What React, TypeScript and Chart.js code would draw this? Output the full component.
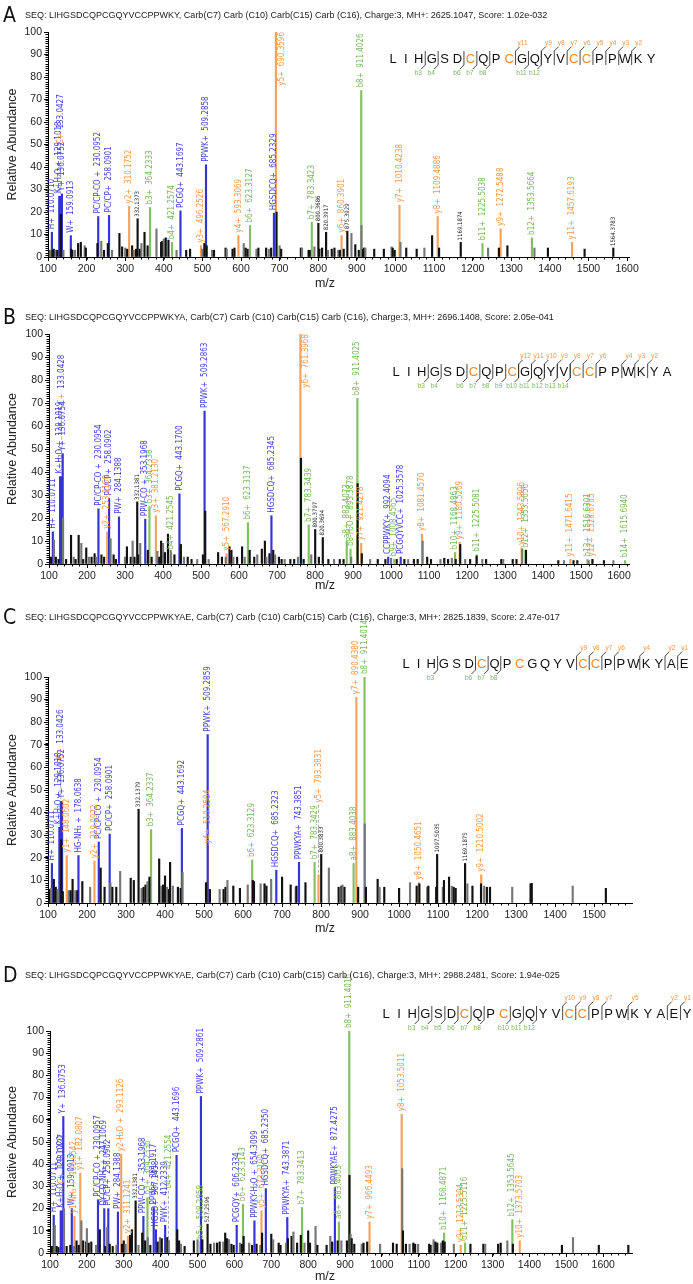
import React, { useEffect, useRef } from 'react';
import { Chart, registerables } from 'chart.js';
Chart.register(...registerables);

type Pk = [number, number];
type Named = [string, number, number];

// ---------------- Panel A ----------------
const A_HEADER = 'SEQ: LIHGSDCQPCGQYVCCPPWKY, Carb(C7) Carb (C10) Carb(C15) Carb (C16), Charge:3, MH+: 2625.1047, Score: 1.02e-032';
const A_SEQ = 'LIHGSDCQPCGQYVCCPPWKY';
const A_B_IONS = [3, 4, 6, 7, 8, 11, 12];
const A_Y_IONS = [11, 9, 8, 7, 6, 5, 4, 3, 2];
const A_BLUE: Named[] = [
  ['H+', 110.0710, 11], ['K+H₂O +', 129.1018, 27], ['C+', 133.0427, 27], ['Y+', 136.0752, 28],
  ['W+', 159.0913, 9.5], ['PC/CP-CO +', 230.0952, 18], ['PC/CP+', 258.0901, 18.5],
  ['PCGQ+', 443.1697, 20.5], ['PPWK+', 509.2858, 41], ['HGSDCQ+', 685.2329, 19.5],
];
const A_ORANGE: Named[] = [
  ['y2+', 310.1752, 22.5], ['y3+', 496.2526, 5], ['y4+', 593.3069, 9.5], ['y5+', 690.3596, 100],
  ['y6+', 860.3901, 9.5], ['y7+', 1010.4238, 23], ['y8+', 1109.4886, 18], ['y9+', 1272.5488, 12.5],
  ['y11+', 1457.6193, 6.5],
];
const A_GREEN: Named[] = [
  ['b3+', 364.2333, 22], ['b4+', 421.2574, 6.5], ['b6+', 623.3127, 14], ['b7+', 783.3423, 15.5],
  ['b8+', 911.4026, 74], ['b11+', 1225.5038, 6], ['b12+', 1353.5664, 8.5],
];
const A_MARKED: Pk[] = [[332.1373, 17], [800.3686, 15], [820.3917, 11], [875.3929, 11.5], [1169.1874, 6.5], [1564.3783, 4]];
const A_OTHER: Pk[] = [
  [103, 3], [106, 3], [112, 3], [115, 3.5], [120, 3], [124, 3], [133, 19], [140, 3], [160, 3.5], [163, 3], [170, 3],
  [178, 6], [185, 6.5], [195, 5], [198, 4], [228, 6], [238, 7], [245, 3], [255, 6], [266, 3], [285, 10.5], [292, 4.5],
  [300, 4], [305, 3.5], [318, 5], [322, 3], [328, 3.5], [338, 3.5], [342, 6], [350, 11], [358, 5], [381, 12.5],
  [393, 6.5], [396, 7], [400, 8], [405, 8.5], [412, 7.5], [433, 3], [458, 3], [468, 3.5], [500, 3.5], [505, 6],
  [511, 5], [525, 3], [530, 3], [560, 4], [563, 3.5], [578, 3.5], [583, 4], [607, 6], [612, 4], [617, 3.5],
  [640, 3.5], [645, 4], [665, 4], [672, 3.5], [678, 4], [692, 20], [700, 5], [704, 3.5], [755, 4], [758, 4],
  [775, 3], [778, 3], [790, 4.5], [803, 3.5], [810, 4], [825, 3], [835, 3.5], [842, 4], [852, 3], [856, 3],
  [866, 3.5], [886, 10.5], [896, 5.5], [905, 3], [912, 14], [916, 3.5], [919, 4], [922, 4], [945, 3.5], [970, 3.5],
  [990, 4.5], [993, 4], [998, 3], [1013, 6.5], [1028, 4], [1055, 3.5], [1075, 4], [1095, 9.5], [1113, 4],
  [1240, 4], [1268, 4], [1290, 5], [1360, 4], [1395, 4], [1490, 3.5],
];

// ---------------- Panel B ----------------
const B_HEADER = 'SEQ: LIHGSDCQPCGQYVCCPPWKYA, Carb(C7) Carb (C10) Carb(C15) Carb (C16), Charge:3, MH+: 2696.1408, Score: 2.05e-041';
const B_SEQ = 'LIHGSDCQPCGQYVCCPPWKYA';
const B_B_IONS = [3, 4, 6, 7, 8, 9, 10, 11, 12, 13, 14];
const B_Y_IONS = [12, 11, 10, 9, 8, 7, 6, 4, 3, 2];
const B_BLUE: Named[] = [
  ['H+', 110.0711, 14], ['K+H₂O +', 129.1019, 38], ['C+', 133.0428, 38], ['Y+', 136.0754, 48],
  ['PC/CP-CO +', 230.0954, 24], ['PC/CP+', 258.0902, 28.5], ['PW+', 284.1388, 20.5],
  ['PPW-CO +', 353.1968, 19.5], ['PCGQ+', 443.1700, 30.5], ['PPWK+', 509.2863, 66.5],
  ['HGSDCQ+', 685.2345, 21], ['CCPPWKY+', 992.4094, 3], ['PCGQYVCC+', 1025.3578, 3],
];
const B_ORANGE: Named[] = [
  ['y2+', 253.1160, 14], ['y3+', 381.2130, 21], ['y5+', 567.2910, 4.5], ['y6+', 761.3968, 100],
  ['y7+', 921.4278, 9], ['y8+', 1081.4570, 13], ['y9+', 1180.5269, 9.5], ['y10+', 1343.5896, 7],
  ['y11+', 1471.6415, 2], ['y12+', 1528.6705, 2],
];
const B_GREEN: Named[] = [
  ['b3+', 364.2338, 25], ['b4+', 421.2545, 5], ['b6+', 623.3137, 18], ['b7+', 783.3439, 17],
  ['a8+', 883.4073, 10], ['b8-H₂O+', 893.3878, 6.5], ['b8+', 911.4025, 72], ['b9+', 1008.4565, 2],
  ['b10+', 1168.4863, 5], ['b11+', 1225.5081, 4], ['b12+', 1353.5656, 6], ['b13+', 1516.6301, 2],
  ['b14+', 1615.6940, 1.5],
];
const B_MARKED: Pk[] = [[332.1381, 27], [800.3797, 15], [820.3694, 11.5]];
const B_OTHER: Pk[] = [
  [105, 3], [113, 10.5], [118, 3], [125, 2], [137, 20], [145, 2], [158, 12.5], [165, 3], [170, 2], [178, 12.5],
  [185, 9], [190, 2], [198, 7], [205, 3], [212, 3], [220, 4.5], [225, 3], [238, 4], [245, 3], [262, 11], [270, 4],
  [276, 2], [300, 3], [305, 7.5], [315, 3], [320, 10], [325, 3], [335, 4], [340, 9], [360, 6], [370, 3], [385, 5.5],
  [390, 3], [395, 10], [400, 9], [405, 5], [413, 13], [420, 6], [430, 4], [447, 8.5], [455, 3], [465, 3], [475, 2],
  [490, 2], [505, 4], [511, 23], [520, 2], [545, 5], [555, 3], [565, 3], [575, 7.5], [580, 6], [585, 3], [595, 3],
  [608, 7.5], [615, 3], [628, 6], [640, 3], [648, 4], [660, 6.5], [668, 10], [672, 3], [680, 4.5], [690, 6],
  [695, 4], [705, 3], [712, 2], [720, 2], [735, 2], [745, 2], [755, 3], [763, 46], [770, 2], [790, 4], [810, 3],
  [835, 2], [850, 2], [865, 2], [875, 2], [895, 3], [912, 35], [923, 4.5], [945, 2], [965, 2], [985, 2],
  [1000, 2.5], [1015, 2], [1035, 2], [1045, 2], [1060, 2], [1070, 2], [1083, 10], [1095, 3], [1105, 2],
  [1130, 2], [1140, 2.5], [1150, 2], [1160, 2.5], [1170, 2], [1182, 8.5], [1195, 2], [1208, 2], [1225, 3.5],
  [1240, 2], [1250, 2], [1290, 2], [1295, 2], [1320, 2], [1330, 2], [1345, 6.5], [1355, 6], [1440, 1.5],
  [1455, 1.5], [1480, 1.5], [1490, 1.5], [1520, 1.5], [1530, 2], [1560, 1.5], [1585, 1.5],
];

// ---------------- Panel C ----------------
const C_HEADER = 'SEQ: LIHGSDCQPCGQYVCCPPWKYAE, Carb(C7) Carb (C10) Carb(C15) Carb (C16), Charge:3, MH+: 2825.1839, Score: 2.47e-017';
const C_SEQ = 'LIHGSDCQPCGQYVCCPPWKYAE';
const C_B_IONS = [3, 6, 7, 8];
const C_Y_IONS = [9, 8, 7, 6, 4, 2, 1];
const C_BLUE: Named[] = [
  ['H+', 110.0711, 17.5], ['K+H₂O +', 129.1018, 33.5], ['C+', 133.0426, 45], ['Y+', 136.0752, 45],
  ['HG-NH₃ +', 178.0638, 21], ['PC/CP-CO +', 230.0954, 27], ['PC/CP+', 258.0901, 30.5],
  ['PCGQ+', 443.1692, 33], ['PPWK+', 509.2859, 74.5], ['HGSDCQ+', 685.2323, 14.5], ['PPWKYA+', 743.3851, 18],
];
const C_ORANGE: Named[] = [
  ['y1+', 148.0602, 21], ['y2+', 219.0972, 18.5], ['y4+', 510.2584, 25], ['y5+', 793.3831, 12.5],
  ['y7+', 890.4380, 91], ['y8+', 1050.4651, 9], ['y9+', 1210.5002, 12.5],
];
const C_GREEN: Named[] = [
  ['b3+', 364.2337, 32.5], ['b6+', 623.3129, 19], ['b7+', 783.3429, 18], ['a8+', 883.4038, 17.5],
  ['b8+', 911.4014, 100],
];
const C_MARKED: Pk[] = [[332.1379, 41.5], [800.3833, 21.5], [1097.5035, 21.5], [1169.1875, 17.5]];
const C_OTHER: Pk[] = [
  [105, 6], [108, 6.5], [115, 10.5], [120, 7], [125, 6], [134, 28], [138, 5], [153, 5.5], [158, 5.5], [163, 10.5],
  [170, 5.5], [175, 5.5], [188, 9.5], [208, 7], [235, 15.5], [245, 7], [260, 9], [265, 7], [275, 7], [285, 14],
  [312, 11], [320, 10], [340, 6.5], [345, 7], [350, 8], [355, 9.5], [360, 11.5], [385, 19.5], [390, 7.5], [395, 8],
  [400, 12], [405, 7], [410, 6], [413, 18], [420, 7.5], [433, 7], [440, 6.5], [445, 13.5], [505, 9], [515, 6],
  [540, 6], [550, 6], [555, 7], [560, 10], [575, 7.5], [592, 6.5], [612, 8], [625, 10], [628, 9.5], [645, 8.5],
  [655, 8.5], [660, 7.5], [672, 10.5], [700, 11.5], [722, 8], [735, 7], [737, 7.5], [760, 9], [820, 15.5],
  [845, 7], [852, 7.5], [855, 8], [860, 7], [895, 7], [912, 35], [915, 7], [945, 10.5], [950, 7], [962, 7],
  [1000, 6.5], [1028, 9], [1045, 7.5], [1052, 8.5], [1072, 7], [1075, 7.5], [1095, 7], [1112, 7], [1115, 10],
  [1128, 11.5], [1135, 7.5], [1140, 7], [1145, 6.5], [1175, 8.5], [1188, 7.5], [1210, 8.5], [1218, 7.5],
  [1225, 7], [1233, 7], [1290, 7], [1337, 8.5], [1340, 8.7], [1445, 7.5], [1530, 6.5],
];

// ---------------- Panel D ----------------
const D_HEADER = 'SEQ: LIHGSDCQPCGQYVCCPPWKYAE, Carb(C7) Carb (C10) Carb(C15) Carb (C16), Charge:3, MH+: 2988.2481, Score: 1.94e-025';
const D_SEQ = 'LIHGSDCQPCGQYVCCPPWKYAEY';
const D_B_IONS = [3, 4, 5, 6, 7, 8, 10, 11, 12];
const D_Y_IONS = [10, 9, 8, 7, 5, 2, 1];
const D_BLUE: Named[] = [
  ['H+', 110.0711, 17], ['K+H₂O +', 129.1020, 19], ['C+', 133.0427, 19], ['Y+', 136.0753, 61.5],
  ['W+', 159.0913, 20], ['PC/CP-CO +', 230.0957, 24], ['DY-CO-NH₃ +', 247.1069, 20], ['PC/CP+', 258.0902, 20],
  ['PW+', 284.1388, 18.5], ['PPW-CO +', 353.1968, 16.5], ['PPW+', 381.1917, 20.5], ['HGSD+', 387.1458, 10.5],
  ['PWK+', 412.2339, 12.5], ['PCGQ+', 443.1696, 44], ['PPWK+', 509.2861, 70.5], ['PCGQY+', 606.2334, 12.5],
  ['PPWKY-H₂O +', 654.3099, 14.5], ['HGSDCQ+', 685.2350, 29], ['PPWKYA+', 743.3871, 16],
  ['PPWKYAE+', 872.4275, 29.5],
];
const D_ORANGE: Named[] = [
  ['y1-NH₃ +', 166.0542, 16.5], ['y1+', 182.0807, 36], ['y2-H₂O +', 293.1126, 44.5], ['y2+', 311.1241, 7.5],
  ['y5+', 673.3190, 19], ['y7+', 966.4493, 14], ['y8+', 1053.5011, 62.5], ['y9+', 1213.5394, 3.5],
  ['y10+', 1373.5703, 5.5],
];
const D_GREEN: Named[] = [
  ['b3+', 364.2336, 25], ['b4+', 421.2554, 5.5], ['b5+', 508.2858, 5], ['b6+', 623.3143, 22],
  ['b7+', 783.3413, 20.5], ['a8+', 883.4063, 14], ['b8+', 911.4016, 100], ['b10+', 1168.4871, 9],
  ['b11+', 1225.5116, 4.5], ['b12+', 1353.5645, 15],
];
const D_MARKED: Pk[] = [[332.1381, 23.5], [527.2596, 13]];
const D_OTHER: Pk[] = [
  [105, 3], [113, 12.5], [118, 3], [123, 2.5], [138, 20], [145, 3], [155, 3.5], [165, 3], [172, 5.5], [178, 3.5],
  [185, 14.5], [190, 5.5], [198, 5], [200, 11], [205, 4.5], [212, 5], [225, 3.5], [235, 10.5], [250, 3], [255, 11.5],
  [262, 4], [270, 3], [280, 3.5], [295, 4], [300, 5.5], [305, 4], [317, 8], [322, 10.5], [340, 3.5], [350, 9],
  [358, 5.5], [365, 7], [372, 3.5], [392, 5], [398, 7], [403, 6.5], [418, 7], [422, 5.5], [445, 10.5], [450, 5.5],
  [455, 4], [465, 3], [490, 5.5], [500, 6], [513, 6], [535, 4], [545, 4.5], [553, 4.5], [560, 5], [570, 5], [575, 9],
  [580, 6.5], [585, 6], [592, 4], [598, 3.5], [615, 4.5], [620, 4], [625, 7.5], [640, 4.5], [648, 3.5], [660, 4],
  [670, 3.5], [675, 9], [700, 8.5], [705, 6], [720, 4.5], [725, 3.5], [740, 4.5], [745, 6.5], [755, 7.5], [760, 9.5],
  [770, 4.5], [780, 8], [790, 4.5], [800, 10], [805, 4.5], [820, 12], [825, 3.5], [850, 3.5], [860, 7.5], [865, 5],
  [880, 5.5], [890, 5.5], [905, 5.5], [912, 35], [915, 8.5], [918, 6.5], [925, 4], [945, 4], [950, 4.5], [960, 5],
  [995, 4], [1030, 4.5], [1040, 4], [1055, 38], [1057, 10], [1065, 4], [1075, 4], [1085, 4.5], [1090, 4], [1098, 4],
  [1128, 4], [1132, 3.5], [1140, 6], [1145, 5], [1150, 4.5], [1160, 4.5], [1165, 5.5], [1170, 5], [1195, 4],
  [1240, 4], [1275, 4], [1280, 4], [1315, 4], [1322, 4.5], [1340, 5.5], [1355, 4], [1488, 3.5], [1518, 7],
  [1588, 3.5], [1668, 3.5],
];

// ---------------- Axes ----------------
const Y_TICKS = [0, 10, 20, 30, 40, 50, 60, 70, 80, 90, 100];
const X_TICKS_16 = [100, 200, 300, 400, 500, 600, 700, 800, 900, 1000, 1100, 1200, 1300, 1400, 1500, 1600];
const X_TICKS_15 = [100, 200, 300, 400, 500, 600, 700, 800, 900, 1000, 1100, 1200, 1300, 1400, 1500];
const CARB_SITES = [7, 10, 15, 16];

// ---------------- Style ----------------
const FONT = '"Liberation Sans", Arial, sans-serif';
const NARROW = '"Liberation Sans Narrow", "Arial Narrow", "DejaVu Sans Condensed", sans-serif';
const COL_BLUE = '#3434d2';
const COL_ORANGE = '#f4a35c';
const COL_GREEN = '#84bf66';
const TXT_BLUE = '#4343dc';
const TXT_ORANGE = '#f2994a';
const TXT_GREEN = '#78b95a';
const RES_ORANGE = '#f28a2e';
const COL_BLACK = '#111111';
const COL_GRAY = '#777777';

interface PanelCfg {
  key: string; header: string; seq: string; bIons: number[]; yIons: number[];
  blue: Named[]; orange: Named[]; green: Named[]; marked: Pk[]; other: Pk[];
  xTicks: number[]; xMax: number;
  top: number; height: number; chartTop: number; chartBottom: number; left: number; right: number;
  headerY: number; pepX0: number; pepX1: number; pepY: number; mzY: number;
  leaders: Record<string, number>;
}

const PANELS: PanelCfg[] = [
  {
    key: 'A', header: A_HEADER, seq: A_SEQ, bIons: A_B_IONS, yIons: A_Y_IONS,
    blue: A_BLUE, orange: A_ORANGE, green: A_GREEN, marked: A_MARKED, other: A_OTHER,
    xTicks: X_TICKS_16, xMax: 1605,
    top: 0, height: 300, chartTop: 32, chartBottom: 257, left: 48, right: 629,
    headerY: 16, pepX0: 393, pepX1: 651, pepY: 58, mzY: 284, leaders: { 'C+': 50 },
  },
  {
    key: 'B', header: B_HEADER, seq: B_SEQ, bIons: B_B_IONS, yIons: B_Y_IONS,
    blue: B_BLUE, orange: B_ORANGE, green: B_GREEN, marked: B_MARKED, other: B_OTHER,
    xTicks: X_TICKS_16, xMax: 1626,
    top: 300, height: 305, chartTop: 34, chartBottom: 264, left: 49, right: 629,
    headerY: 18, pepX0: 396, pepX1: 667, pepY: 71, mzY: 286, leaders: { 'C+': 70 },
  },
  {
    key: 'C', header: C_HEADER, seq: C_SEQ, bIons: C_B_IONS, yIons: C_Y_IONS,
    blue: C_BLUE, orange: C_ORANGE, green: C_GREEN, marked: C_MARKED, other: C_OTHER,
    xTicks: X_TICKS_15, xMax: 1597,
    top: 605, height: 345, chartTop: 72, chartBottom: 298, left: 48, right: 632,
    headerY: 13, pepX0: 406, pepX1: 684, pepY: 58, mzY: 324, leaders: { 'C+': 40, 'y5+': 70 },
  },
  {
    key: 'D', header: D_HEADER, seq: D_SEQ, bIons: D_B_IONS, yIons: D_Y_IONS,
    blue: D_BLUE, orange: D_ORANGE, green: D_GREEN, marked: D_MARKED, other: D_OTHER,
    xTicks: X_TICKS_16, xMax: 1678,
    top: 950, height: 334, chartTop: 81, chartBottom: 303, left: 50, right: 632,
    headerY: 26, pepX0: 386, pepX1: 687, pepY: 63, mzY: 327, leaders: { 'C+': 25, 'b4+': 50 },
  },
];

function drawVText(ctx: CanvasRenderingContext2D, x: number, yBottom: number, parts: { t: string; c: string }[], font: string) {
  ctx.save();
  ctx.translate(x, yBottom);
  ctx.rotate(-Math.PI / 2);
  ctx.font = font;
  ctx.textAlign = 'left';
  ctx.textBaseline = 'middle';
  let cx = 0;
  for (const p of parts) {
    ctx.fillStyle = p.c;
    ctx.fillText(p.t, cx, 0);
    cx += ctx.measureText(p.t).width;
  }
  ctx.restore();
}

function measureParts(ctx: CanvasRenderingContext2D, parts: { t: string }[], font: string) {
  ctx.save();
  ctx.font = font;
  let w = 0;
  for (const p of parts) w += ctx.measureText(p.t).width;
  ctx.restore();
  return w;
}

function line(ctx: CanvasRenderingContext2D, x1: number, y1: number, x2: number, y2: number) {
  ctx.beginPath();
  ctx.moveTo(x1, y1);
  ctx.lineTo(x2, y2);
  ctx.stroke();
}

function drawPeptide(ctx: CanvasRenderingContext2D, p: PanelCfg) {
  const n = p.seq.length;
  const step = (p.pepX1 - p.pepX0) / (n - 1);
  const Y = p.pepY;
  const h = 7;
  ctx.save();
  ctx.font = `13px ${FONT}`;
  ctx.textAlign = 'center';
  ctx.textBaseline = 'middle';
  for (let i = 0; i < n; i++) {
    ctx.fillStyle = CARB_SITES.includes(i + 1) ? RES_ORANGE : COL_BLACK;
    ctx.fillText(p.seq[i], p.pepX0 + i * step, Y + 1);
  }
  ctx.strokeStyle = '#333';
  ctx.lineWidth = 0.9;
  const bnd = (k: number) => p.pepX0 + (k - 0.5) * step;
  ctx.font = `6.5px ${FONT}`;
  for (const b of p.bIons) {
    const bx = bnd(b);
    line(ctx, bx, Y - h, bx, Y + h);
    line(ctx, bx, Y + h, bx - 4, Y + h + 4);
    ctx.fillStyle = TXT_GREEN;
    ctx.fillText('b' + b, bx - 7, Y + h + 8);
  }
  for (const yv of p.yIons) {
    const bx = bnd(n - yv);
    line(ctx, bx, Y - h, bx, Y + h);
    line(ctx, bx, Y - h, bx + 4, Y - h - 4);
    ctx.fillStyle = TXT_ORANGE;
    ctx.fillText('y' + yv, bx + 7, Y - h - 8);
  }
  ctx.restore();
}

function overlay(p: PanelCfg) {
  return {
    id: 'overlay' + p.key,
    afterDraw(chart: any) {
      const { ctx, chartArea } = chart;
      const xs = chart.scales.x;
      const ys = chart.scales.y;
      ctx.save();
      ctx.strokeStyle = '#000';
      ctx.lineWidth = 1;
      ctx.beginPath();
      for (let v = 100; v <= p.xMax; v += 20) {
        const px = Math.round(xs.getPixelForValue(v)) + 0.5;
        ctx.moveTo(px, chartArea.bottom);
        ctx.lineTo(px, chartArea.bottom + 2.5);
      }
      for (let v = 0; v <= 100; v += 1) {
        const py = Math.round(ys.getPixelForValue(v)) + 0.5;
        ctx.moveTo(chartArea.left, py);
        ctx.lineTo(chartArea.left - 2.5, py);
      }
      ctx.stroke();

      const labelFont = `8px ${NARROW}`;
      const groups: [Named[], string][] = [[p.blue, TXT_BLUE], [p.orange, TXT_ORANGE], [p.green, TXT_GREEN]];
      for (const [arr, col] of groups) {
        for (const [name, mz, inten] of arr) {
          const px = xs.getPixelForValue(mz);
          const top = ys.getPixelForValue(inten);
          const parts = [
            { t: name + '  ', c: name === 'C+' ? TXT_ORANGE : col },
            { t: mz.toFixed(4), c: col },
          ];
          const len = measureParts(ctx, parts, labelFont);
          const lead = p.leaders[name] || 0;
          let bottom = top - 3;
          if (lead) {
            ctx.save();
            ctx.strokeStyle = '#999';
            ctx.lineWidth = 0.8;
            ctx.setLineDash([3, 2]);
            line(ctx, px, top - 2, px, top - lead);
            ctx.restore();
            bottom = top - lead - 2;
          }
          if (bottom - len < 1) {
            drawVText(ctx, px + 6, top + len, parts, labelFont);
          } else {
            drawVText(ctx, px, bottom, parts, labelFont);
          }
        }
      }
      const smallFont = `6px ${NARROW}`;
      for (const [mz, inten] of p.marked) {
        const px = xs.getPixelForValue(mz);
        const top = ys.getPixelForValue(inten);
        drawVText(ctx, px, top - 2, [{ t: mz.toFixed(4), c: '#222' }], smallFont);
      }

      ctx.fillStyle = '#111';
      ctx.textBaseline = 'middle';
      ctx.textAlign = 'left';
      ctx.font = `21px ${NARROW}`;
      ctx.fillText(p.key, 3, p.headerY + 1);
      ctx.font = `9px ${FONT}`;
      ctx.fillStyle = '#222';
      ctx.fillText(p.header, 25, p.headerY);

      ctx.font = `12.5px ${FONT}`;
      ctx.fillStyle = '#222';
      ctx.textAlign = 'center';
      ctx.fillText('m/z', 325, p.mzY);
      ctx.save();
      ctx.translate(13, (chartArea.top + chartArea.bottom) / 2);
      ctx.rotate(-Math.PI / 2);
      ctx.fillText('Relative Abundance', 0, 0);
      ctx.restore();

      drawPeptide(ctx, p);
      ctx.restore();
    },
  };
}

function buildChart(canvas: HTMLCanvasElement, p: PanelCfg) {
  const pts = (arr: Pk[]) => arr.map(([x, y]) => ({ x, y }));
  const npts = (arr: Named[]) => arr.map(([, x, y]) => ({ x, y }));
  const ds = (data: any[], color: any, order: number) => ({
    data, backgroundColor: color, borderWidth: 0, barThickness: 1.5, grouped: false, order,
  });
  return new Chart(canvas, {
    type: 'bar',
    data: {
      datasets: [
        ds(pts(p.other), p.other.map((_, i) => (i % 3 === 1 ? COL_GRAY : COL_BLACK)), 0),
        ds(pts(p.marked), COL_BLACK, 1),
        ds(npts(p.blue), COL_BLUE, 2),
        ds(npts(p.orange), COL_ORANGE, 3),
        ds(npts(p.green), COL_GREEN, 4),
      ] as any,
    },
    options: {
      responsive: false,
      animation: false,
      devicePixelRatio: 1,
      layout: { padding: { top: p.chartTop, right: 693 - p.right, bottom: 0, left: 0 } },
      plugins: { legend: { display: false }, tooltip: { enabled: false }, title: { display: false } },
      scales: {
        x: {
          type: 'linear', min: 100, max: p.xMax, offset: false,
          afterBuildTicks: (s: any) => { s.ticks = p.xTicks.map((v) => ({ value: v })); },
          afterFit: (s: any) => { s.height = p.height - p.chartBottom; },
          grid: { display: true, drawOnChartArea: false, drawTicks: true, tickLength: 4, color: '#000', offset: false },
          border: { display: true, color: '#000', width: 1 },
          ticks: {
            font: { family: FONT, size: 10.5 }, color: '#222', padding: 2, maxRotation: 0, autoSkip: false,
            callback: (v: any) => String(v),
          },
        },
        y: {
          type: 'linear', min: 0, max: 100,
          afterBuildTicks: (s: any) => { s.ticks = Y_TICKS.map((v) => ({ value: v })); },
          afterFit: (s: any) => { s.width = p.left; },
          grid: { display: true, drawOnChartArea: false, drawTicks: true, tickLength: 4, color: '#000' },
          border: { display: true, color: '#000', width: 1 },
          ticks: { font: { family: FONT, size: 10.5 }, color: '#222', padding: 2, autoSkip: false, callback: (v: any) => String(v) },
        },
      },
    } as any,
    plugins: [overlay(p)],
  });
}

function Panel({ p }: { p: PanelCfg }) {
  const ref = useRef<HTMLCanvasElement>(null);
  useEffect(() => {
    const chart = buildChart(ref.current as HTMLCanvasElement, p);
    return () => chart.destroy();
  }, [p]);
  return (
    <canvas
      ref={ref}
      width={693}
      height={p.height}
      style={{ position: 'absolute', left: 0, top: p.top, width: 693, height: p.height }}
    />
  );
}

export default function App() {
  return (
    <div style={{ position: 'absolute', left: 0, top: 0, width: 693, height: 1284, background: '#fff' }}>
      {PANELS.map((p) => (
        <Panel key={p.key} p={p} />
      ))}
    </div>
  );
}
